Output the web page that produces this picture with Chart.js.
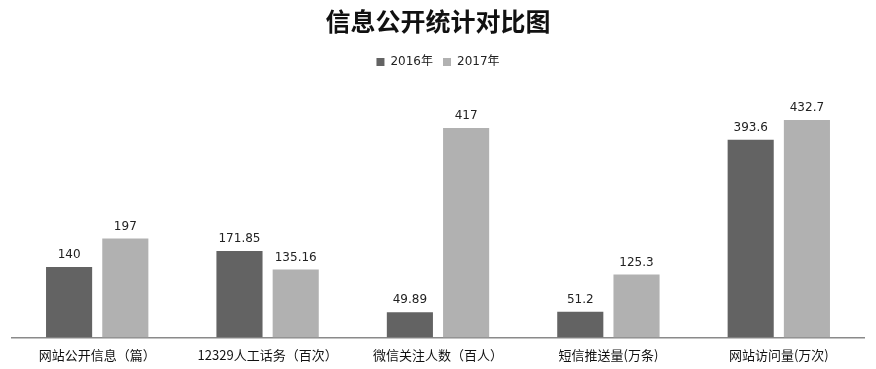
<!DOCTYPE html>
<html>
<head>
<meta charset="utf-8">
<script src="https://cdn.jsdelivr.net/npm/chart.js@4/dist/chart.umd.min.js"></script>
<style>
html,body{margin:0;padding:0;background:#fff;}
#wrap{width:876px;height:369px;position:relative;}
</style>
</head>
<body>
<div id="wrap"><canvas id="c" width="876" height="369"></canvas></div>
<script>
const categories = ['网站公开信息（篇）', '12329人工话务（百次）', '微信关注人数（百人）', '短信推送量(万条)', '网站访问量(万次)'];
const series2016 = [140, 171.85, 49.89, 51.2, 393.6];
const series2017 = [197, 135.16, 417, 125.3, 432.7];
const seriesNames = ['2016年', '2017年'];

const numFont = '"DejaVu Sans", "Noto Sans CJK SC", sans-serif';

const valueLabels = {
  id: 'valueLabels',
  afterDatasetsDraw(chart) {
    const ctx = chart.ctx;
    ctx.save();
    ctx.font = '12px ' + numFont;
    ctx.fillStyle = '#222';
    ctx.textAlign = 'center';
    ctx.textBaseline = 'bottom';
    chart.data.datasets.forEach((ds, i) => {
      const meta = chart.getDatasetMeta(i);
      meta.data.forEach((bar, j) => {
        ctx.fillText(String(ds.data[j]), bar.x, bar.y - 6);
      });
    });
    ctx.restore();
  }
};

new Chart(document.getElementById('c'), {
  type: 'bar',
  data: {
    labels: categories,
    datasets: [
      { label: seriesNames[0], data: series2016, backgroundColor: '#636363' },
      { label: seriesNames[1], data: series2017, backgroundColor: '#b1b1b1' }
    ]
  },
  options: {
    responsive: false,
    animation: false,
    devicePixelRatio: 1,
    categoryPercentage: 0.66,
    barPercentage: 0.82,
    layout: { padding: { left: 12, right: 12, top: 0, bottom: -4 } },
    plugins: {
      title: {
        display: true,
        text: '信息公开统计对比图',
        color: '#111',
        font: { family: '"Noto Sans CJK SC", sans-serif', size: 25, weight: 'bold' },
        padding: { top: 6, bottom: 10 }
      },
      subtitle: {
        display: true,
        text: ' ',
        weight: 500,
        font: { size: 1 },
        padding: { top: 0, bottom: 7 }
      },
      legend: {
        display: true,
        labels: {
          boxWidth: 8,
          boxHeight: 8,
          color: '#222',
          font: { family: numFont, size: 12 },
          padding: 10
        }
      },
      tooltip: { enabled: false }
    },
    scales: {
      x: {
        grid: { display: false, drawTicks: false },
        border: { display: true, color: '#8a8a8a', width: 1.5 },
        ticks: {
          color: '#111',
          padding: 10,
          font: { family: '"Noto Sans CJK SC", sans-serif', size: 13 },
          maxRotation: 0,
          autoSkip: false
        }
      },
      y: {
        display: false,
        min: 0,
        max: 500
      }
    }
  },
  plugins: [valueLabels]
});
</script>
</body>
</html>
